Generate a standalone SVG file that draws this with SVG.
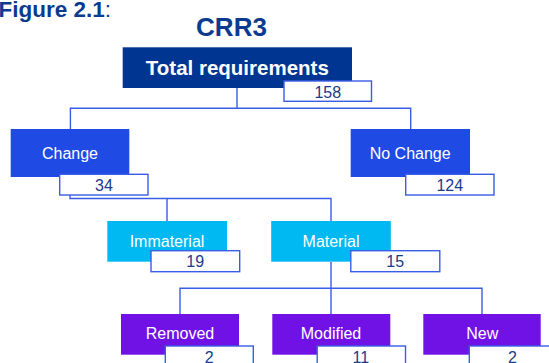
<svg xmlns="http://www.w3.org/2000/svg" width="549" height="363" viewBox="0 0 549 363">
<style>
.t{font-family:"Liberation Sans",Arial,sans-serif}
.title{fill:#0b3a8f;font-weight:bold}
.lbl{fill:#ffffff;font-size:16px;text-anchor:middle}
.num{fill:#1a3a8c;font-size:16px;text-anchor:middle}
.nb{fill:#ffffff;stroke:#3a5de6;stroke-width:1.4}
.c1{fill:#003591}
.c2{fill:#1f4ae3}
.c3{fill:#00b9f2}
.c4{fill:#7012e6}
.con{fill:none;stroke:#3a5de6;stroke-width:1.4}
</style>
<rect width="549" height="363" fill="#ffffff"/>
<text class="t title" x="-1.5" y="17.3" font-size="22.5">Figure 2.1<tspan font-weight="normal">:</tspan></text>
<text class="t title" x="231.5" y="35.7" font-size="26" text-anchor="middle">CRR3</text>
<g id="connectors">
<path class="con" d="M237 88V108.3M70.4 129V108.3H410.7V129"/>
<path class="con" d="M70 177V198.5H331V221M167 198.5V221"/>
<path class="con" d="M331 262V288.3M180 314V288.3H482V314M331 288.3V314"/>
</g>
<g id="total">
<rect class="c1" x="122.7" y="47.3" width="229.3" height="40.7"/>
<text class="t" x="237.3" y="75" font-size="20.5" font-weight="bold" fill="#ffffff" text-anchor="middle">Total requirements</text>
<rect class="nb" x="284" y="81" width="87.5" height="20.3"/>
<text class="t num" x="327.8" y="97.5">158</text>
</g>
<g id="change">
<rect class="c2" x="10.7" y="129" width="118.6" height="48"/>
<text class="t lbl" x="70" y="159">Change</text>
<rect class="nb" x="59.7" y="174.3" width="88.3" height="20.7"/>
<text class="t num" x="104" y="191">34</text>
</g>
<g id="nochange">
<rect class="c2" x="350.7" y="129" width="119.3" height="48"/>
<text class="t lbl" x="410.2" y="159">No Change</text>
<rect class="nb" x="405.7" y="174.3" width="88.3" height="20.7"/>
<text class="t num" x="449.8" y="191">124</text>
</g>
<g id="immaterial">
<rect class="c3" x="107.3" y="221" width="119.7" height="40.7"/>
<text class="t lbl" x="167" y="246.7">Immaterial</text>
<rect class="nb" x="151" y="250.7" width="88.7" height="21"/>
<text class="t num" x="195.2" y="266.9">19</text>
</g>
<g id="material">
<rect class="c3" x="271.2" y="221" width="119.6" height="40.7"/>
<text class="t lbl" x="331" y="246.7">Material</text>
<rect class="nb" x="350.8" y="250.7" width="89" height="21"/>
<text class="t num" x="395.2" y="266.9">15</text>
</g>
<g id="removed">
<rect class="c4" x="121" y="314" width="118" height="40.7"/>
<text class="t lbl" x="180" y="339.3">Removed</text>
<rect class="nb" x="165.3" y="346" width="88" height="21"/>
<text class="t num" x="209.3" y="362.9">2</text>
</g>
<g id="modified">
<rect class="c4" x="272.3" y="314" width="118" height="40.7"/>
<text class="t lbl" x="331" y="339.3">Modified</text>
<rect class="nb" x="317.2" y="346" width="88.3" height="21"/>
<text class="t num" x="360.8" y="362.9">11</text>
</g>
<g id="new">
<rect class="c4" x="423.3" y="314" width="117.4" height="40.7"/>
<text class="t lbl" x="482.3" y="339.3">New</text>
<rect class="nb" x="469.3" y="346" width="88" height="21"/>
<text class="t num" x="512.5" y="362.9">2</text>
</g>
</svg>
